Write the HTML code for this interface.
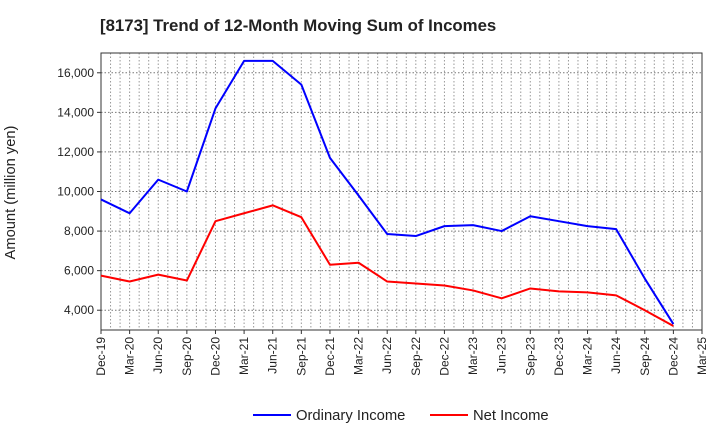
<!DOCTYPE html>
<html><head><meta charset="utf-8"><style>
body{margin:0;background:#fff;font-family:"Liberation Sans",sans-serif}
</style></head><body>
<svg id="chart" width="720" height="440" xmlns="http://www.w3.org/2000/svg" font-family="Liberation Sans, sans-serif"></svg>
<script>
const categories=["Dec-19","Mar-20","Jun-20","Sep-20","Dec-20","Mar-21","Jun-21","Sep-21","Dec-21","Mar-22","Jun-22","Sep-22","Dec-22","Mar-23","Jun-23","Sep-23","Dec-23","Mar-24","Jun-24","Sep-24","Dec-24","Mar-25"];
const ordinaryIncome=[9600,8900,10600,10000,14200,16600,16600,15400,11700,9800,7850,7750,8250,8300,8000,8750,8500,8250,8100,5600,3300];
const netIncome=[5750,5450,5800,5500,8500,8900,9300,8700,6300,6400,5450,5350,5250,5000,4600,5100,4950,4900,4750,4000,3200];
const yTicks=[4000,6000,8000,10000,12000,14000,16000];
const yMin=3000,yMax=17000;
const L=101,R=702,T=53,B=330;
const svg=document.getElementById('chart');
const NS='http://www.w3.org/2000/svg';
function x(i){return L+(R-L)*i/(categories.length-1);}
function y(v){return B-(B-T)*(v-yMin)/(yMax-yMin);}
function mk(tag,attrs,parent){const e=document.createElementNS(NS,tag);for(const k in attrs)e.setAttribute(k,attrs[k]);(parent||svg).appendChild(e);return e;}
let e=mk('text',{x:100,y:31,'font-size':16.8,'font-weight':'bold',fill:'#222'});e.textContent='[8173]  Trend of 12-Month Moving Sum of Incomes';


const g=mk('g',{});


const months=(categories.length-1)*3;
for(let m=1;m<months;m++){const xx=L+(R-L)*m/months;mk('line',{x1:xx,x2:xx,y1:T,y2:B,stroke:'#999','stroke-dasharray':'1.5,2','stroke-width':1},g);}
yTicks.forEach(v=>{mk('line',{x1:L,x2:R,y1:y(v),y2:y(v),stroke:'#777','stroke-dasharray':'1.5,2','stroke-width':1},g);
 const t=mk('text',{x:L-7,y:y(v)+4,'text-anchor':'end','font-size':12,fill:'#222'});t.textContent=v.toLocaleString('en-US');
 
 
 mk('line',{x1:L-4,x2:L,y1:y(v),y2:y(v),stroke:'#333'});});
categories.forEach((c,i)=>{const t=mk('text',{transform:`translate(${x(i)+4},${B+7}) rotate(-90)`,'text-anchor':'end','font-size':12,fill:'#222'});t.textContent=c;
 
 
 mk('line',{x1:x(i),x2:x(i),y1:B,y2:B+4,stroke:'#333'});});
const frame=mk('rect',{x:L,y:T,width:R-L,height:B-T,fill:'none',stroke:'#333','stroke-width':1});


const yt=mk('text',{transform:`translate(19,${(T+B)/2}) rotate(-90)`,'text-anchor':'middle','font-size':14.7,fill:'#222'});yt.textContent='Amount (million yen)';
yt.setAttribute('transform',`translate(15,${(T+B)/2+1}) rotate(-90)`);


function series(data,color,name){const p=mk('polyline',{points:data.map((v,i)=>x(i)+','+y(v)).join(' '),fill:'none',stroke:color,'stroke-width':2,'stroke-linejoin':'round'});
 
 }
series(ordinaryIncome,'#0000ff','ordinary-income-line');
series(netIncome,'#ff0000','net-income-line');
function legend(lx,color,label,name){const lg=mk('g',{});
 
 
 mk('line',{x1:lx,x2:lx+38,y1:415,y2:415,stroke:color,'stroke-width':2},lg);
 const t=mk('text',{x:lx+43,y:420,'font-size':14.8,fill:'#222'},lg);t.textContent=label;}
legend(253,'#0000ff','Ordinary Income','legend-ordinary-income');
legend(430,'#ff0000','Net Income','legend-net-income');
</script>
</body></html>
